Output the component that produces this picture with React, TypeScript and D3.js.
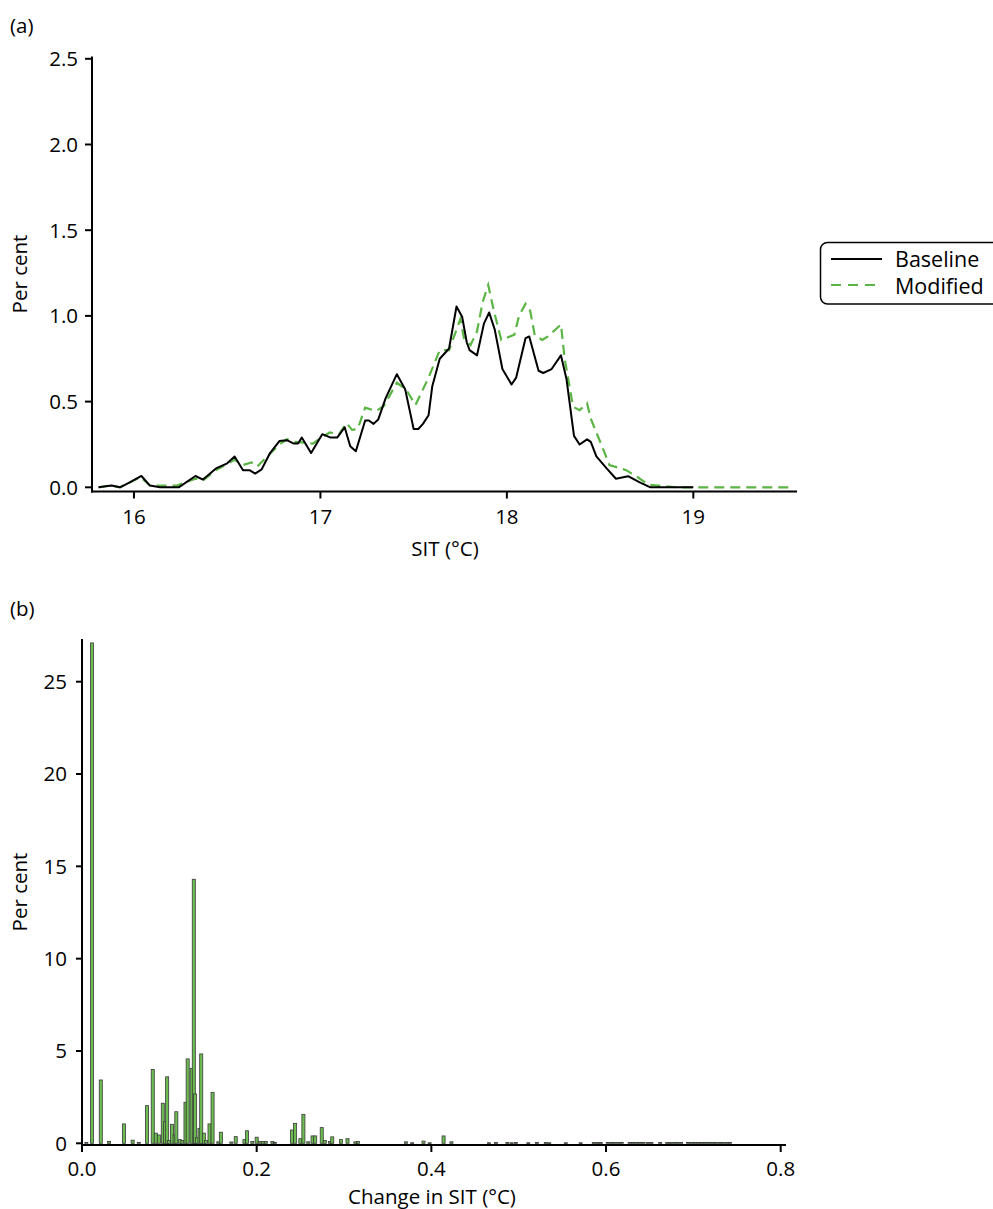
import React from "react";
import * as d3 from "d3";

// Panel (a): distribution of SIT (°C), per cent of cases
const baselineT = [15.81, 15.88, 15.925, 15.98, 16.04, 16.086, 16.14, 16.24, 16.33, 16.37, 16.44, 16.5, 16.54, 16.585, 16.62, 16.65, 16.685, 16.73, 16.78, 16.82, 16.855, 16.88, 16.9, 16.95, 17.01, 17.055, 17.09, 17.13, 17.16, 17.19, 17.24, 17.26, 17.285, 17.31, 17.35, 17.41, 17.455, 17.5, 17.525, 17.55, 17.58, 17.6, 17.64, 17.69, 17.73, 17.76, 17.785, 17.8, 17.84, 17.877, 17.905, 17.935, 17.976, 18.025, 18.05, 18.1, 18.12, 18.17, 18.195, 18.24, 18.29, 18.32, 18.36, 18.39, 18.43, 18.45, 18.48, 18.535, 18.585, 18.65, 18.71, 18.77, 19.0];
const baselinePct = [0, 0.01, 0, 0.03, 0.066, 0.01, 0, 0, 0.066, 0.045, 0.11, 0.14, 0.18, 0.1, 0.1, 0.08, 0.105, 0.2, 0.27, 0.275, 0.256, 0.256, 0.29, 0.2, 0.31, 0.29, 0.29, 0.35, 0.24, 0.21, 0.39, 0.39, 0.37, 0.395, 0.52, 0.66, 0.57, 0.34, 0.34, 0.37, 0.42, 0.59, 0.75, 0.81, 1.055, 0.995, 0.845, 0.8, 0.77, 0.955, 1.02, 0.92, 0.69, 0.6, 0.64, 0.87, 0.88, 0.68, 0.667, 0.69, 0.77, 0.63, 0.3, 0.25, 0.28, 0.265, 0.18, 0.11, 0.05, 0.065, 0.03, 0, 0];

const modifiedT = [15.81, 15.87, 15.925, 15.98, 16.035, 16.086, 16.23, 16.33, 16.37, 16.44, 16.54, 16.585, 16.63, 16.66, 16.71, 16.78, 16.82, 16.865, 16.92, 16.96, 16.99, 17.05, 17.1, 17.14, 17.17, 17.2, 17.24, 17.3, 17.34, 17.41, 17.46, 17.51, 17.58, 17.64, 17.69, 17.75, 17.77, 17.805, 17.84, 17.87, 17.9, 17.93, 17.97, 18.04, 18.065, 18.1, 18.125, 18.15, 18.19, 18.22, 18.29, 18.31, 18.355, 18.39, 18.43, 18.45, 18.51, 18.55, 18.64, 18.7, 18.76, 18.91, 19.53];
const modifiedPct = [0, 0.01, 0, 0.03, 0.06, 0.01, 0.01, 0.05, 0.04, 0.1, 0.16, 0.13, 0.145, 0.12, 0.175, 0.25, 0.28, 0.265, 0.26, 0.255, 0.28, 0.32, 0.31, 0.375, 0.335, 0.34, 0.465, 0.445, 0.475, 0.61, 0.57, 0.48, 0.64, 0.8, 0.8, 0.98, 0.87, 0.83, 0.91, 1.08, 1.18, 1.03, 0.86, 0.89, 1.0, 1.07, 1.03, 0.885, 0.86, 0.88, 0.95, 0.75, 0.47, 0.45, 0.49, 0.4, 0.24, 0.13, 0.1, 0.06, 0.015, 0, 0];

const tempTicks = [16, 17, 18, 19];
const pctTicksA = [0, 0.5, 1.0, 1.5, 2.0, 2.5];

// Panel (b): histogram of change in SIT (°C)
const binWidth = 0.0035;
const changeBins = [0.005, 0.0115, 0.0215, 0.031, 0.048, 0.058, 0.065, 0.0745, 0.081, 0.0845, 0.088, 0.0925, 0.095, 0.0975, 0.0995, 0.103, 0.106, 0.108, 0.112, 0.115, 0.1185, 0.121, 0.1255, 0.128, 0.1295, 0.1315, 0.1345, 0.1365, 0.1395, 0.142, 0.146, 0.1495, 0.156, 0.159, 0.171, 0.176, 0.186, 0.189, 0.195, 0.2, 0.2035, 0.207, 0.2105, 0.218, 0.221, 0.2405, 0.244, 0.25, 0.2535, 0.259, 0.264, 0.267, 0.2745, 0.278, 0.284, 0.2865, 0.2965, 0.304, 0.313, 0.316, 0.371, 0.378, 0.391, 0.398, 0.414, 0.423, 0.466, 0.474, 0.487, 0.492, 0.497, 0.511, 0.521, 0.531, 0.535, 0.554, 0.571, 0.586, 0.59, 0.594, 0.602, 0.606, 0.61, 0.614, 0.618, 0.627, 0.631, 0.635, 0.639, 0.643, 0.648, 0.652, 0.662, 0.67, 0.674, 0.678, 0.682, 0.686, 0.694, 0.698, 0.702, 0.706, 0.71, 0.714, 0.718, 0.722, 0.726, 0.73, 0.734, 0.738, 0.742];
const changePct = [0.05, 27.1, 3.43, 0.1, 1.05, 0.17, 0.05, 2.04, 4.0, 0.55, 0.45, 2.17, 1.17, 3.6, 0.15, 1.03, 0.45, 1.71, 0.2, 0.15, 2.22, 4.57, 4.06, 14.3, 2.67, 0.3, 0.81, 4.84, 0.55, 0.15, 1.05, 2.76, 0.08, 0.6, 0.07, 0.36, 0.2, 0.68, 0.1, 0.33, 0.1, 0.1, 0.1, 0.1, 0.05, 0.72, 1.08, 0.25, 1.57, 0.08, 0.4, 0.4, 0.85, 0.15, 0.1, 0.35, 0.2, 0.25, 0.08, 0.1, 0.08, 0.03, 0.12, 0.03, 0.4, 0.08, 0.03, 0.04, 0.04, 0.03, 0.04, 0.03, 0.04, 0.04, 0.03, 0.03, 0.03, 0.04, 0.04, 0.04, 0.05, 0.05, 0.05, 0.05, 0.05, 0.05, 0.05, 0.05, 0.05, 0.05, 0.04, 0.04, 0.04, 0.04, 0.04, 0.05, 0.05, 0.05, 0.05, 0.05, 0.05, 0.05, 0.05, 0.05, 0.05, 0.05, 0.05, 0.05, 0.05, 0.05, 0.05];

const changeTicks = [0, 0.2, 0.4, 0.6, 0.8];
const pctTicksB = [0, 5, 10, 15, 20, 25];

const seriesNames = ["Baseline", "Modified"];

const FONT = "'Open Sans', 'Noto Sans', sans-serif";
const FS = 20.5;
const GREEN = "#5bb544";
const BAR_GREEN = "#6cbd4f";

export default function App() {
  // Panel (a) scales
  const xA = d3.scaleLinear().domain([15.775, 19.556]).range([92, 797]);
  const yA = d3.scaleLinear().domain([0, 2.5]).range([487.3, 58.8]);
  const axisYA = 491.5;

  const line = d3
    .line<[number, number]>()
    .x((d) => xA(d[0]))
    .y((d) => yA(d[1]));
  const basePath = line(baselineT.map((t, i) => [t, baselinePct[i]]) as [number, number][]) || "";
  const modPath = line(modifiedT.map((t, i) => [t, modifiedPct[i]]) as [number, number][]) || "";

  // Panel (b) scales
  const xB = d3.scaleLinear().domain([0, 0.8]).range([82, 780.7]);
  const yB = d3.scaleLinear().domain([0, 25]).range([1143.3, 681.7]);
  const axisYB = 1145;
  const barW = xB(binWidth) - xB(0);

  const fmt1 = d3.format(".1f");

  return (
    <svg
      width={993}
      height={1209}
      style={{ position: "absolute", left: 0, top: 0, background: "#fff" }}
      fontFamily={FONT}
    >
      {/* ---------- Panel (a) ---------- */}
      <text x={10} y={33} fontSize={FS}>(a)</text>

      <path d={modPath} fill="none" stroke={GREEN} strokeWidth={2.2} strokeDasharray="10,6" />
      <path d={basePath} fill="none" stroke="#000" strokeWidth={2} strokeLinejoin="round" />

      {/* y axis */}
      <line x1={92} x2={92} y1={56.5} y2={axisYA + 1} stroke="#000" strokeWidth={2} />
      {pctTicksA.map((v) => (
        <g key={"ya" + v}>
          <line x1={85} x2={92} y1={yA(v)} y2={yA(v)} stroke="#000" strokeWidth={2} />
          <text x={78} y={yA(v)} dy="0.36em" textAnchor="end" fontSize={FS}>
            {fmt1(v)}
          </text>
        </g>
      ))}
      {/* x axis */}
      <line x1={91} x2={797} y1={axisYA} y2={axisYA} stroke="#000" strokeWidth={2} />
      {tempTicks.map((v) => (
        <g key={"xa" + v}>
          <line x1={xA(v)} x2={xA(v)} y1={axisYA} y2={axisYA + 7} stroke="#000" strokeWidth={2} />
          <text x={xA(v)} y={524} textAnchor="middle" fontSize={FS}>
            {v}
          </text>
        </g>
      ))}
      <text x={445} y={556} textAnchor="middle" fontSize={FS}>SIT (°C)</text>
      <text transform="translate(27,274) rotate(-90)" textAnchor="middle" fontSize={FS}>
        Per cent
      </text>

      {/* legend */}
      <rect x={820.5} y={242.5} width={190} height={61.5} rx={7} fill="#fff" stroke="#000" strokeWidth={1.5} />
      <line x1={831} x2={882} y1={259} y2={259} stroke="#000" strokeWidth={2} />
      <line x1={831} x2={882} y1={285} y2={285} stroke={GREEN} strokeWidth={2.2} strokeDasharray="10,7" />
      <text x={895} y={266.5} fontSize={21.5}>{seriesNames[0]}</text>
      <text x={895} y={294} fontSize={21.5}>{seriesNames[1]}</text>

      {/* ---------- Panel (b) ---------- */}
      <text x={10} y={616} fontSize={FS}>(b)</text>

      {changeBins.map((c, i) => {
        const v = changePct[i];
        const top = yB(v);
        return (
          <rect
            key={"bar" + i}
            x={xB(c) - barW / 2}
            y={top}
            width={barW}
            height={Math.max(yB(0) - top, 0.8)}
            fill={BAR_GREEN}
            stroke="#3a3a3a"
            strokeWidth={0.8}
          />
        );
      })}

      {/* y axis */}
      <line x1={82} x2={82} y1={639} y2={axisYB + 1} stroke="#000" strokeWidth={2} />
      {pctTicksB.map((v) => (
        <g key={"yb" + v}>
          <line x1={76} x2={82} y1={yB(v)} y2={yB(v)} stroke="#000" strokeWidth={2} />
          <text x={67} y={yB(v)} dy="0.36em" textAnchor="end" fontSize={FS}>
            {v}
          </text>
        </g>
      ))}
      {/* x axis */}
      <line x1={81} x2={786} y1={axisYB} y2={axisYB} stroke="#000" strokeWidth={2} />
      {changeTicks.map((v) => (
        <g key={"xb" + v}>
          <line x1={xB(v)} x2={xB(v)} y1={axisYB} y2={axisYB + 7} stroke="#000" strokeWidth={2} />
          <text x={xB(v)} y={1176} textAnchor="middle" fontSize={FS}>
            {fmt1(v)}
          </text>
        </g>
      ))}
      <text x={432} y={1204} textAnchor="middle" fontSize={FS}>Change in SIT (°C)</text>
      <text transform="translate(27,892) rotate(-90)" textAnchor="middle" fontSize={FS}>
        Per cent
      </text>
    </svg>
  );
}
